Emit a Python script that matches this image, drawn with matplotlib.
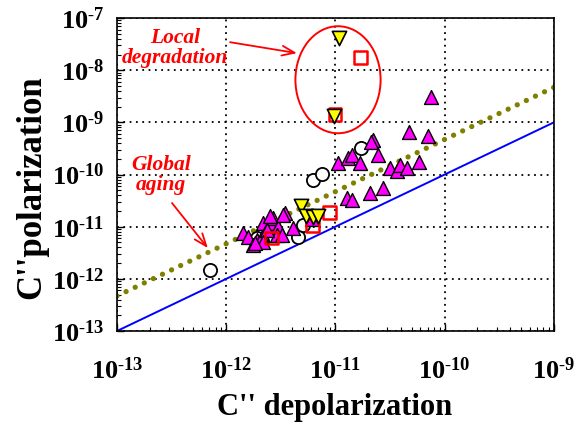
import numpy as np
import matplotlib
matplotlib.use("Agg")
import matplotlib.pyplot as plt
from matplotlib.patches import Ellipse
from matplotlib.ticker import FuncFormatter, LogLocator, NullFormatter

plt.rcParams['font.family'] = ['Liberation Serif', 'DejaVu Serif']
plt.rcParams['mathtext.fontset'] = 'custom'
plt.rcParams['mathtext.rm'] = 'Liberation Serif'
plt.rcParams['mathtext.bf'] = 'Liberation Serif:bold'

# magenta up-triangles
tri_x = [7.46e-11, 4.7e-11, 7.0e-11, 2.2e-11, 2.1e-11, 1.05e-11, 1.3e-11, 1.41e-11,
         1.67e-11, 2.44e-11, 3.15e-11, 3.65e-11, 3.88e-11, 4.5e-11, 5.8e-11, 2.07e-11,
         2.72e-11, 1.27e-11, 1.41e-11, 3.44e-12, 4.07e-12, 6.1e-12, 1.42e-12, 1.58e-12,
         1.75e-12, 1.91e-12, 2.12e-12, 2.17e-12, 2.51e-12, 2.67e-12, 2.97e-12, 2.91e-12,
         3.3e-12, 2.36e-12, 2.17e-12, 1.83e-12, 2.51e-12, 3.24e-12]
tri_y = [3.04e-9, 6.5e-10, 5.45e-10, 4.6e-10, 4.2e-10, 1.65e-10, 2.06e-10, 2.36e-10,
         1.65e-10, 2.36e-10, 1.33e-10, 1.16e-10, 1.51e-10, 1.33e-10, 1.73e-10, 4.4e-11,
         5.5e-11, 3.5e-11, 3.24e-11, 1.82e-11, 9.4e-12, 1.4e-11, 7.5e-12, 6.3e-12,
         4.45e-12, 5.5e-12, 6.3e-12, 1.17e-11, 1.17e-11, 1.46e-11, 9.8e-12, 6.9e-12,
         1.67e-11, 8.6e-12, 5.1e-12, 4.85e-12, 1.6e-11, 6.9e-12]

# black open circles
circ_x = [7.1e-13, 4.5e-12, 5.0e-12, 6.2e-12, 7.5e-12, 1.71e-11, 2.12e-12, 1.91e-12]
circ_y = [1.47e-12, 6.3e-12, 1.07e-11, 7.8e-11, 1.02e-10, 3.2e-10, 5.3e-12, 6.05e-12]

# red open squares
sq_x = [1.71e-11, 9.9e-12, 8.9e-12, 6.2e-12, 2.62e-12]
sq_y = [1.77e-8, 1.44e-9, 1.9e-11, 1.07e-11, 6.05e-12]

# yellow down-triangles
dn_x = [1.07e-11, 9.7e-12, 4.8e-12, 5.4e-12, 6.2e-12, 7.0e-12]
dn_y = [4.1e-8, 1.31e-9, 2.48e-11, 1.6e-11, 1.53e-11, 1.6e-11]

# reference lines
line_x = [1e-13, 1e-9]
unity_y = [1e-13, 1e-9]
trend_y = [4.7e-13, 4.7e-9]

fig = plt.figure(figsize=(5.84, 4.24), dpi=100)
ax = fig.add_axes([0.2003, 0.2193, 0.748, 0.738])
ax.set_xscale('log')
ax.set_yscale('log')
ax.set_xlim(1e-13, 1e-9)
ax.set_ylim(1e-13, 1e-7)

ax.grid(True, which='major', color='black', linestyle=(0, (1, 2.5)), linewidth=1.3)

ax.plot(line_x, unity_y, color='#0000ff', lw=1.4, zorder=2)
ax.plot(line_x, trend_y, color='#808000', lw=3.8, linestyle=(0, (0.01, 1.9)),
        dash_capstyle='round', zorder=2)

ax.scatter(circ_x, circ_y, s=90, marker='o', facecolor='white', edgecolor='black',
           linewidths=1.3, zorder=3)
ax.scatter(tri_x, tri_y, s=100, marker='^', facecolor='#ff00ff', edgecolor='black',
           linewidths=1.0, zorder=4)
ax.scatter(sq_x, sq_y, s=85, marker='s', facecolor='none', edgecolor='#ff0000',
           linewidths=1.8, zorder=5)
ax.scatter(dn_x, dn_y, s=105, marker='v', facecolor='#ffff00', edgecolor='black',
           linewidths=1.2, zorder=6)

ell = Ellipse((0.506, 0.803), 0.195, 0.342, transform=ax.transAxes,
              fill=False, edgecolor='#ff0000', lw=1.4, zorder=7)
ax.add_patch(ell)

txt_kw = dict(color='#ff0000', fontsize=15.5, fontweight='bold', fontstyle='italic',
              ha='center', va='center', linespacing=1.0)
ax.text(0.133, 0.905, 'Local\ndegradation', transform=ax.transAxes, **txt_kw)
ax.text(0.101, 0.498, 'Global\naging', transform=ax.transAxes, **txt_kw)
arr = dict(arrowstyle='->,head_length=0.9,head_width=0.35', color='#ff0000', lw=1.3,
           shrinkA=0, shrinkB=0)
ax.annotate('', xy=(0.412, 0.888), xytext=(0.259, 0.923), xycoords='axes fraction',
            textcoords='axes fraction', arrowprops=arr)
ax.annotate('', xy=(0.208, 0.265), xytext=(0.126, 0.409), xycoords='axes fraction',
            textcoords='axes fraction', arrowprops=arr)

fmt = FuncFormatter(lambda v, p: r'$\mathbf{10^{\text{-}%d}}$' % abs(int(round(np.log10(v)))))
ax.xaxis.set_major_locator(LogLocator(base=10, numticks=10))
ax.yaxis.set_major_locator(LogLocator(base=10, numticks=10))
ax.xaxis.set_minor_locator(LogLocator(base=10, subs=np.arange(2, 10), numticks=20))
ax.yaxis.set_minor_locator(LogLocator(base=10, subs=np.arange(2, 10), numticks=20))
ax.xaxis.set_major_formatter(fmt)
ax.yaxis.set_major_formatter(fmt)
ax.xaxis.set_minor_formatter(NullFormatter())
ax.yaxis.set_minor_formatter(NullFormatter())
ax.tick_params(which='both', direction='in', top=False, right=False, labelsize=19)
ax.tick_params(which='major', length=5, width=1)
ax.tick_params(which='minor', length=3, width=0.8)
ax.tick_params(axis='x', pad=19)
ax.tick_params(axis='y', pad=9)
for s in ax.spines.values():
    s.set_linewidth(1.2)

ax.set_xlabel("C'' depolarization", fontsize=22, fontweight='bold', va='center')
ax.set_ylabel("C''polarization", fontsize=25, fontweight='bold', va='center')
ax.xaxis.set_label_coords(0.499, -0.243)
ax.yaxis.set_label_coords(-0.195, 0.46)

fig.savefig('out.png', dpi=100)
